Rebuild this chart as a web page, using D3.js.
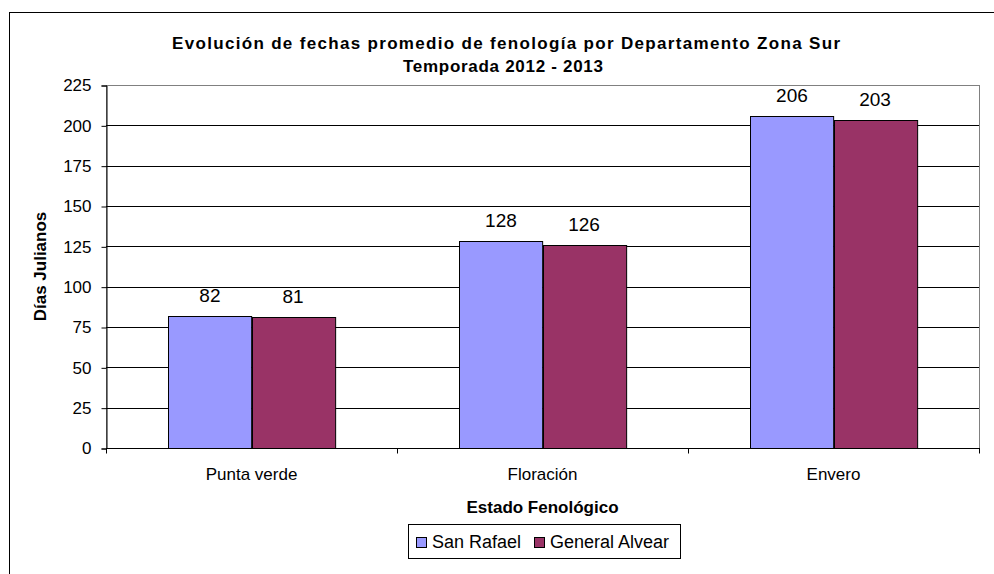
<!DOCTYPE html>
<html>
<head>
<meta charset="utf-8">
<script src="https://cdn.jsdelivr.net/npm/d3@7"></script>
<style>
  body { margin: 0; background: #fff; }
  text { font-family: Arial, "Liberation Sans", sans-serif; fill: #000; }
</style>
</head>
<body>
<svg id="chart"></svg>
<script>
var width = 994,
    height = 574;

var categories = ['Punta verde', 'Floración', 'Envero'];
var seriesNames = ['San Rafael', 'General Alvear'];
var sanRafael = [82, 128, 206];
var generalAlvear = [81, 126, 203];
var yTicks = [0, 25, 50, 75, 100, 125, 150, 175, 200, 225];
var colors = ['#9999ff', '#993366'];

var seriesValues = [sanRafael, generalAlvear];
var rows = categories.map((c, i) => ({cat: c, vals: seriesValues.map(s => s[i])}));

var plotL = 106, plotR = 979, plotT = 85, plotB = 448;

var svg = d3.select('#chart')
            .attr('width', width)
            .attr('height', height);

// outer chart border (runs off the picture right and bottom)
svg.append('rect')
   .attr('x', 9.5).attr('y', 12.5)
   .attr('width', 1100).attr('height', 700)
   .attr('fill', 'none').attr('stroke', '#000');

var y = d3.scaleLinear().domain([0, 225]).range([plotB, plotT]);
var x0 = d3.scaleBand().domain(categories).range([plotL, plotR]);
var bw = x0.bandwidth();
var x1 = d3.scaleBand().domain(seriesNames)
           .range([bw * 0.75 / 3.5, bw * 2.75 / 3.5]);

// plot border, grey top and right
svg.append('rect')
   .attr('x', plotL + 0.5).attr('y', plotT + 0.5)
   .attr('width', plotR - plotL).attr('height', plotB - plotT)
   .attr('fill', 'none').attr('stroke', '#808080');

// gridlines
svg.append('g')
   .selectAll('line')
   .data(yTicks.filter(t => t > 0 && t < 225))
   .enter().append('line')
   .attr('x1', plotL).attr('x2', plotR)
   .attr('y1', d => Math.round(y(d)) + 0.5)
   .attr('y2', d => Math.round(y(d)) + 0.5)
   .attr('stroke', '#000');

// bars
var groups = svg.selectAll('.grp')
                .data(rows)
                .enter().append('g')
                .attr('class', 'grp')
                .attr('transform', d => 'translate(' + x0(d.cat) + ',0)');

groups.selectAll('rect')
      .data(d => d.vals.map((v, i) => ({name: seriesNames[i], v: v, i: i})))
      .enter().append('rect')
      .attr('x', d => Math.round(x1(d.name)) + 0.5)
      .attr('y', d => Math.round(y(d.v)) + 0.5)
      .attr('width', x1.bandwidth())
      .attr('height', d => plotB - Math.round(y(d.v)))
      .attr('fill', d => colors[d.i])
      .attr('stroke', '#000');

groups.selectAll('.lbl')
      .data(d => d.vals.map((v, i) => ({name: seriesNames[i], v: v})))
      .enter().append('text')
      .attr('class', 'lbl')
      .attr('x', d => x1(d.name) + x1.bandwidth() / 2)
      .attr('y', d => y(d.v) - 14)
      .attr('text-anchor', 'middle')
      .style('font-size', '19px')
      .text(d => d.v);

// y axis
var yAxis = d3.axisLeft(y).tickValues(yTicks).tickSize(5).tickPadding(10);
var gy = svg.append('g')
            .attr('transform', 'translate(' + (plotL + 0.5) + ',0.5)')
            .call(yAxis);
gy.select('.domain').attr('stroke', '#000');
gy.selectAll('text').style('font-size', '17px').attr('font-family', null);

// x axis
var gx = svg.append('g')
            .attr('transform', 'translate(0,' + (plotB + 0.5) + ')');
gx.append('line')
  .attr('x1', plotL).attr('x2', plotR + 1)
  .attr('stroke', '#000');
gx.selectAll('.tk')
  .data(categories.map(c => x0(c)).concat([plotR]))
  .enter().append('line')
  .attr('x1', d => Math.round(d) + 0.5).attr('x2', d => Math.round(d) + 0.5)
  .attr('y1', 0).attr('y2', 5)
  .attr('stroke', '#000');
gx.selectAll('.cl')
  .data(categories)
  .enter().append('text')
  .attr('x', d => x0(d) + bw / 2)
  .attr('y', 31)
  .attr('text-anchor', 'middle')
  .style('font-size', '17px')
  .text(d => d);

// titles (reference title is spaced wider than plain bold Arial)
svg.append('text')
   .attr('x', 506).attr('y', 49)
   .attr('text-anchor', 'middle')
   .attr('textLength', 668).attr('lengthAdjust', 'spacing')
   .style('font-size', '17px').style('font-weight', 'bold')
   .text('Evolución de fechas promedio de fenología por Departamento Zona Sur');
svg.append('text')
   .attr('x', 503).attr('y', 72)
   .attr('text-anchor', 'middle')
   .attr('textLength', 200).attr('lengthAdjust', 'spacing')
   .style('font-size', '17px').style('font-weight', 'bold')
   .text('Temporada 2012 - 2013');

svg.append('text')
   .attr('transform', 'translate(46,' + ((plotT + plotB) / 2) + ') rotate(-90)')
   .attr('text-anchor', 'middle')
   .style('font-size', '17px').style('font-weight', 'bold')
   .text('Días Julianos');

svg.append('text')
   .attr('x', (plotL + plotR) / 2).attr('y', 513)
   .attr('text-anchor', 'middle')
   .style('font-size', '17px').style('font-weight', 'bold')
   .text('Estado Fenológico');

// legend
var legend = svg.append('g');
legend.append('rect')
      .attr('x', 408.5).attr('y', 524.5)
      .attr('width', 272).attr('height', 34)
      .attr('fill', '#fff').attr('stroke', '#000');
var legX = [416, 534];
seriesNames.forEach((n, i) => {
  legend.append('rect')
        .attr('x', legX[i] + 0.5).attr('y', 537.5)
        .attr('width', 10).attr('height', 10)
        .attr('fill', colors[i]).attr('stroke', '#000');
  legend.append('text')
        .attr('x', legX[i] + 16).attr('y', 548)
        .style('font-size', '18px')
        .text(n);
});
</script>
</body>
</html>
